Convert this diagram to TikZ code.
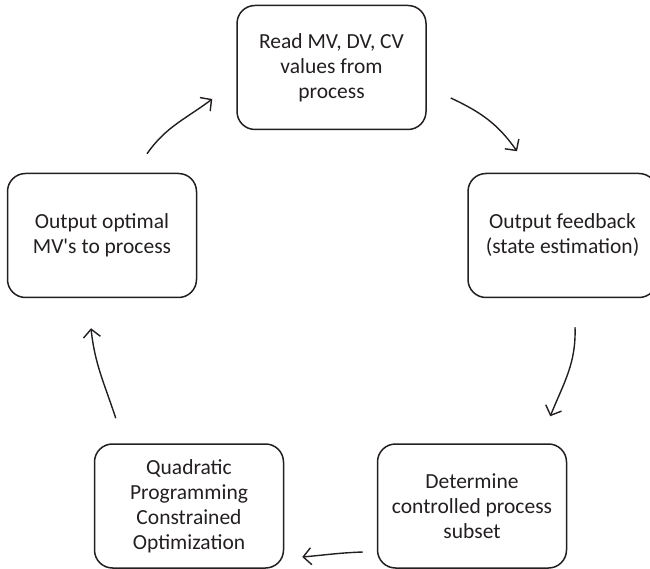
\documentclass[tikz,border=0pt]{standalone}
\usepackage{fontspec}
\setmainfont{Carlito}
\usetikzlibrary{arrows.meta}
\definecolor{inkgray}{HTML}{231F20}
\tikzset{
    procbox/.style={draw=inkgray, line width=1.5pt, rounded corners=18pt,
        minimum width=189pt, minimum height=124pt, align=center,
        text=inkgray, font=\fontsize{21.5}{25}\selectfont},
    flow/.style={draw=inkgray, line width=1.4pt,
        -{Straight Barb[length=8pt,width=17pt,line width=1.4pt]}}
}
\begin{document}
\begin{tikzpicture}[x=1pt, y=1pt]
                \useasboundingbox (0,0) rectangle (650,568);
                \clip (0,0) rectangle (650,568);

                % the five steps of the loop
                \node[procbox] (read) at (331.5,500.5) {Read MV, DV, CV\\values from\\process};
                \node[procbox] (feedback) at (562.5,332.5) {Output feedback\\(state estimation)};
                \node[procbox] (subset) at (472,62) {Determine\\controlled process\\subset};
                \node[procbox] (qp) at (189,62) {Quadratic\\Programming\\Constrained\\Optimization};
                \node[procbox] (output) at (102,332.5) {Output optimal\\MV\textquotesingle s to process};

                % arrows between the steps, clockwise
                \draw[flow] ([shift={(24,-30.5)}]read.east) to[out=-25, in=125]
                ([shift={(-45.5,21.5)}]feedback.north);
                \draw[flow] ([shift={(12.5,-29)}]feedback.south) to[out=-88, in=68]
                ([shift={(-17,27)}]subset.north east);
                \draw[flow] ([shift={(-14,-46)}]subset.west) to[out=182, in=5]
                ([shift={(18,-51)}]qp.east);
                \draw[flow] ([shift={(22,25)}]qp.north west) to[out=108, in=-84]
                ([shift={(-11,-30)}]output.south);
                \draw[flow] ([shift={(45,19)}]output.north) to[out=55, in=-143]
                ([shift={(-24,-31.5)}]read.west);
            \end{tikzpicture}
\end{document}
